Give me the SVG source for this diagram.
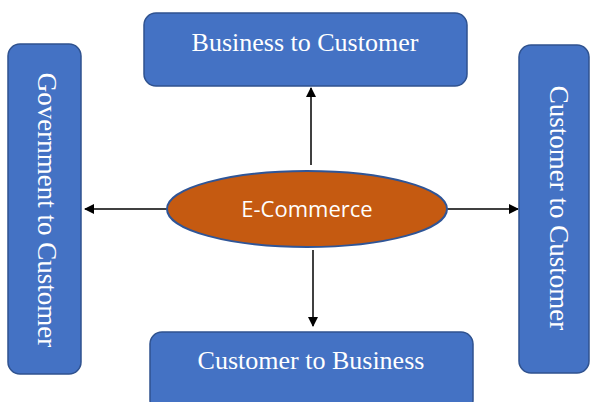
<svg xmlns="http://www.w3.org/2000/svg" width="590" height="402" viewBox="0 0 590 402">
<style>
.box{fill:#4472C4;stroke:#2F528F;stroke-width:1.5}
.lbl{fill:#fff;font-family:"Liberation Serif","Times New Roman",serif;font-size:26px;text-anchor:middle}
.side{font-size:27px}
.conn{stroke:#000;stroke-width:1.5;fill:none;marker-end:url(#ah)}
</style>
<defs>
<marker id="ah" markerWidth="10" markerHeight="10" refX="9" refY="5" orient="auto" markerUnits="userSpaceOnUse">
<path d="M0,0 L10,5 L0,10 Z" fill="#000"/>
</marker>
</defs>
<rect width="590" height="402" fill="#fff"/>
<g id="connectors">
<line class="conn" x1="311" y1="165" x2="311" y2="88"/>
<line class="conn" x1="167" y1="209" x2="85" y2="209"/>
<line class="conn" x1="447" y1="209" x2="518" y2="209"/>
<line class="conn" x1="313" y1="250" x2="313" y2="326"/>
</g>
<g id="b2c">
<rect class="box" x="144" y="13" width="323" height="73" rx="12"/>
<text class="lbl" x="305" y="51">Business to Customer</text>
</g>
<g id="g2c">
<rect class="box" x="8" y="44" width="73" height="330" rx="12"/>
<text class="lbl side" transform="translate(38,210) rotate(90)" x="0" y="0">Government to Customer</text>
</g>
<g id="c2c">
<rect class="box" x="519" y="45" width="70" height="328" rx="12"/>
<text class="lbl side" transform="translate(550,208) rotate(90)" x="0" y="0">Customer to Customer</text>
</g>
<g id="c2b">
<rect class="box" x="150" y="332" width="323" height="80" rx="12"/>
<text class="lbl" x="311" y="369">Customer to Business</text>
</g>
<g id="ecommerce">
<ellipse cx="307" cy="209" rx="140" ry="38" fill="#C55A11" stroke="#2F5597" stroke-width="2"/>
<text x="307" y="217" fill="#fff" font-family="'Open Sans','Liberation Sans',sans-serif" font-size="22" text-anchor="middle">E-Commerce</text>
</g>
</svg>
